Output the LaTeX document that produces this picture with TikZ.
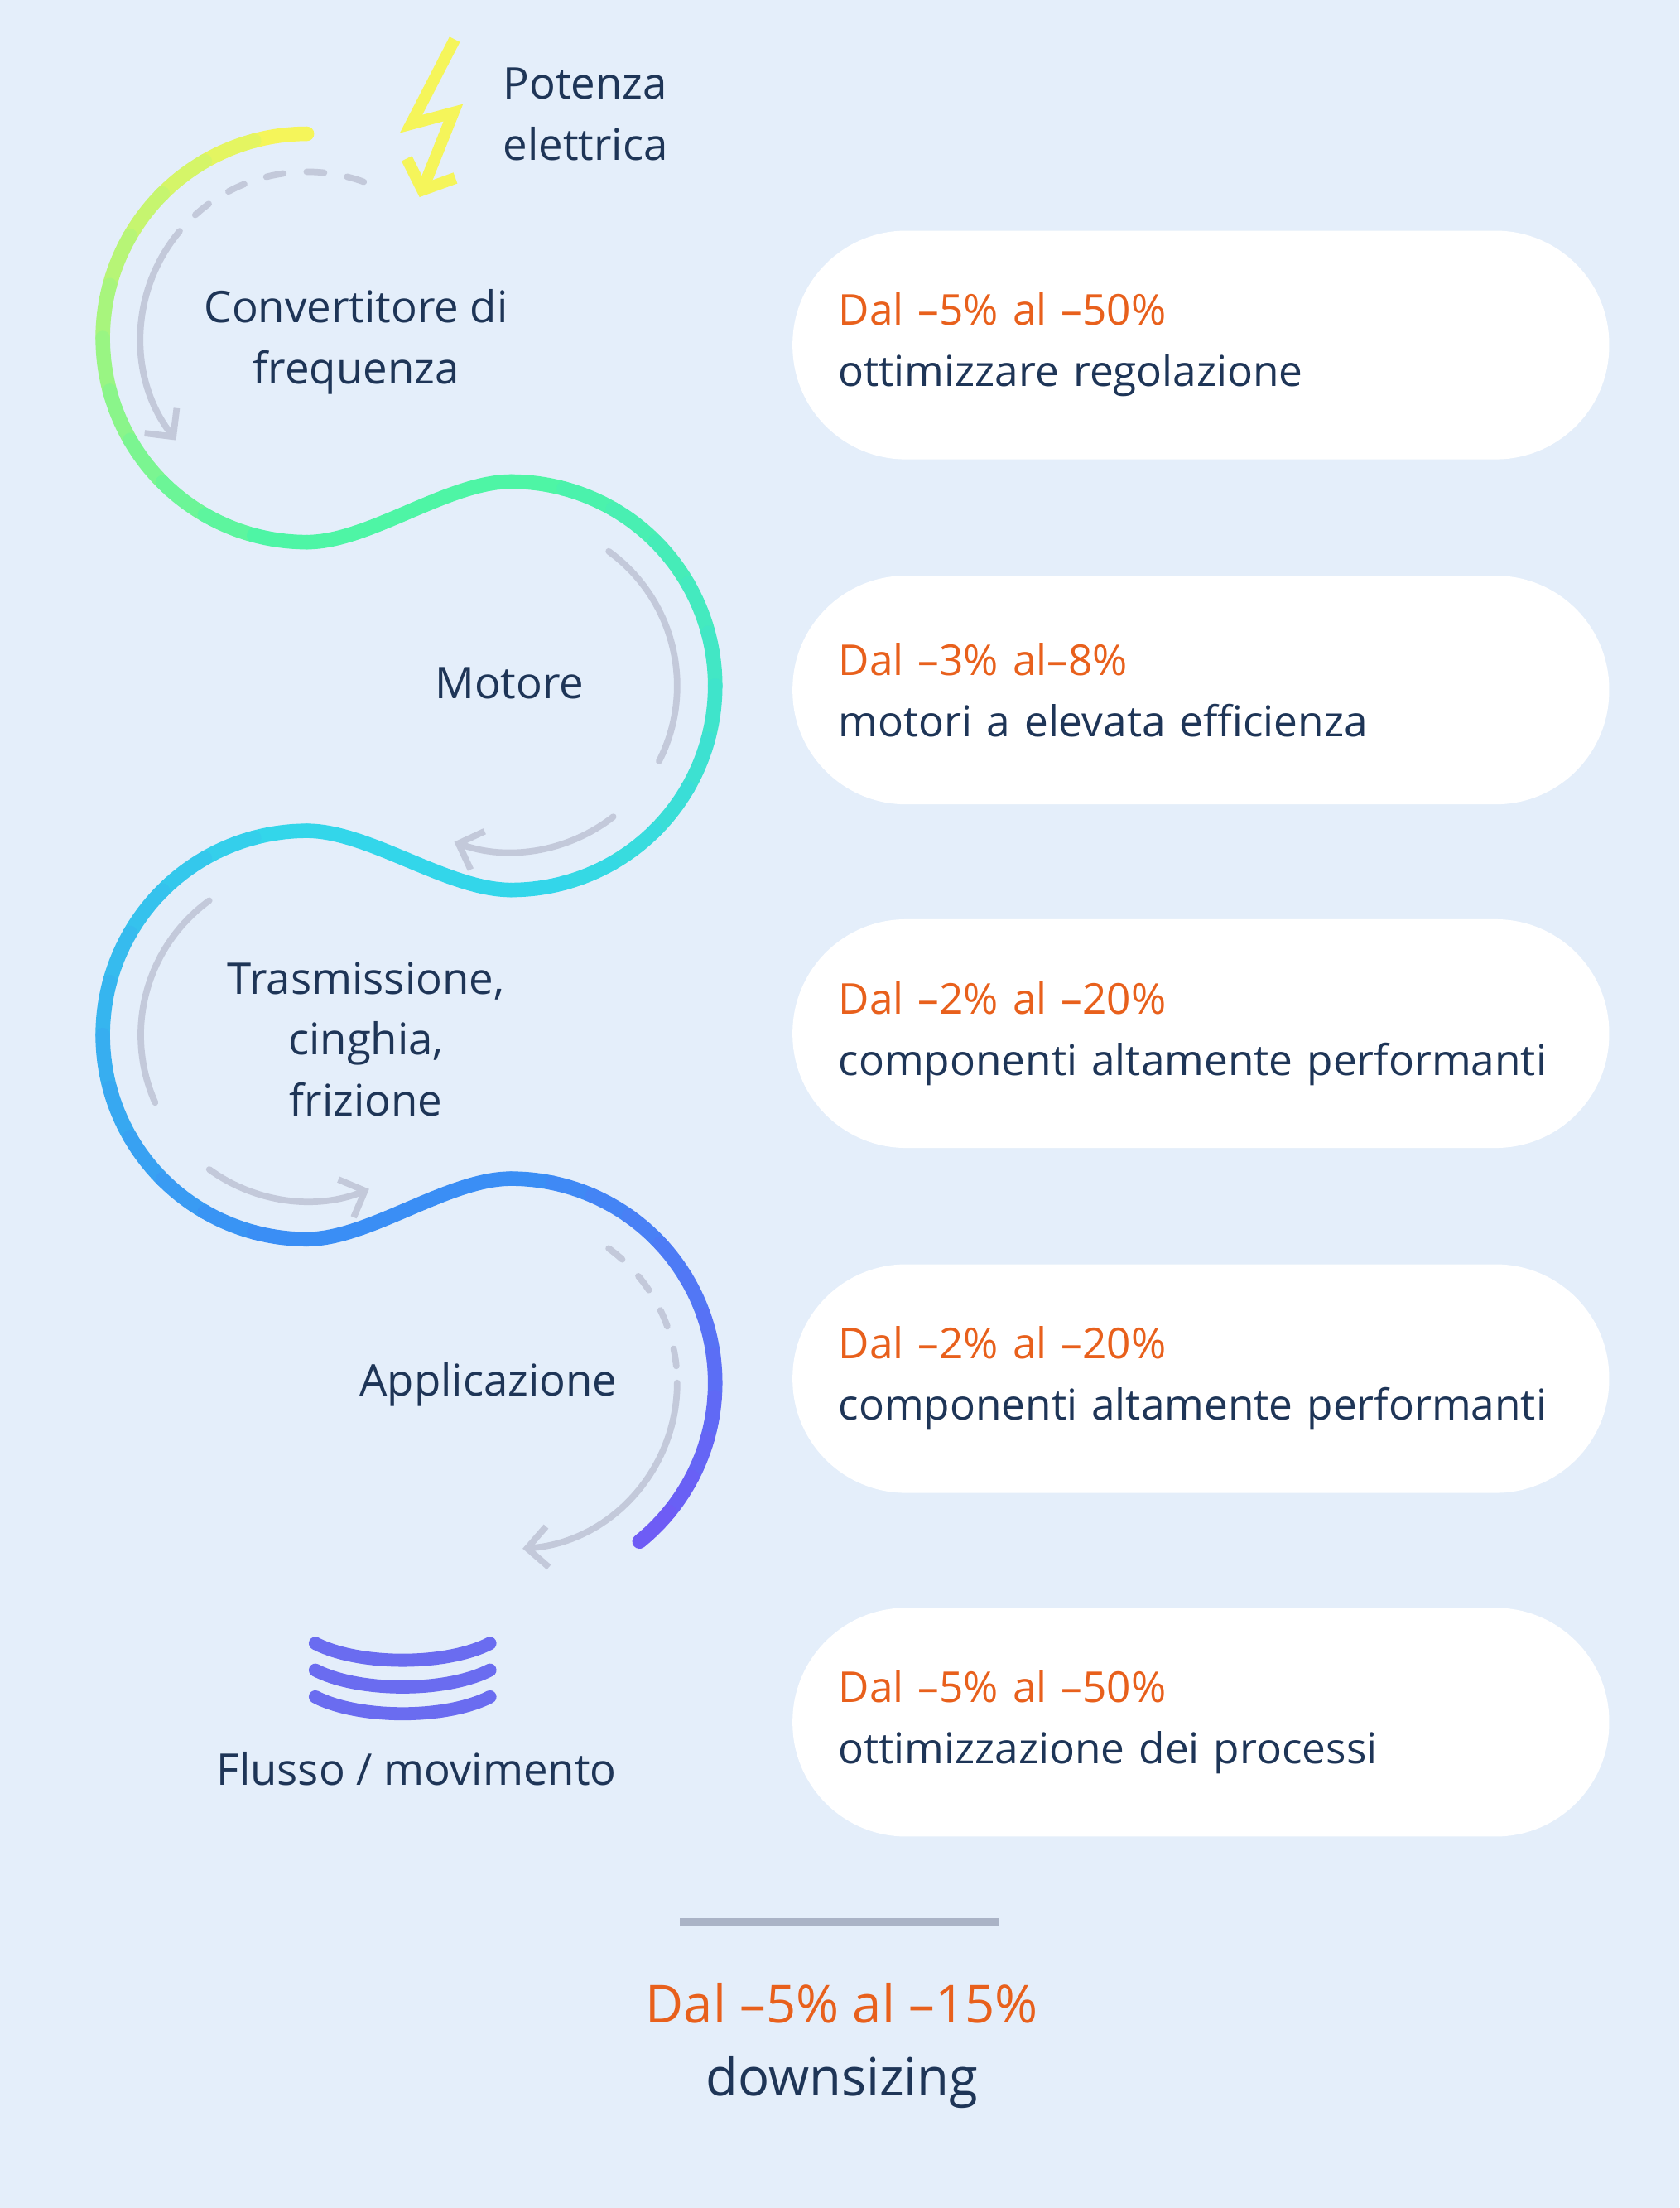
\documentclass[tikz,border=0pt]{standalone}
\usepackage{fontspec}
\setmainfont{Open Sans}
\usetikzlibrary{arrows.meta,positioning}
\definecolor{bg}{HTML}{E4EEFA}
\definecolor{navy}{HTML}{1E3557}
\definecolor{orng}{HTML}{E8601C}
\definecolor{gry}{HTML}{C3C9DA}
\definecolor{cyel}{HTML}{F5F55A}
\definecolor{cgrn}{HTML}{4EF5A5}
\definecolor{ccya}{HTML}{33D6EA}
\definecolor{cblu}{HTML}{3A8EF5}
\definecolor{cvio}{HTML}{6E5CF5}
\definecolor{cwav}{HTML}{6A6CF0}
\tikzset{
    serp/.style={line width=5pt, line cap=round},
    guide/.style={gry, line width=2.2pt, line cap=round},
    guidedash/.style={guide, dash pattern=on 6pt off 8pt},
    lbl/.style={text=navy, font=\fontsize{15pt}{21pt}\selectfont, align=center},
    pill/.style={fill=white, rounded corners=1.37cm, minimum width=9.86cm,
           minimum height=2.76cm, text width=8.75cm, align=left,
           font=\fontsize{14.6pt}{21pt}\selectfont, text=navy},
}
% gradient arc: cx, cy, start, end, colour a, colour b
\newcommand\gradarc[6]{%
  \foreach \i in {0,...,11}{%
    \pgfmathsetmacro\aa{#3+(#4-#3)*\i/12}%
    \pgfmathsetmacro\ab{#3+(#4-#3)*(\i+1)/12}%
    \pgfmathtruncatemacro\pp{100-100*\i/11}%
    \draw[serp, color=#5!\pp!#6] (#1,#2) ++(\aa:145)
      arc[start angle=\aa, end angle=\ab, radius=145];
  }}
\begin{document}
\begin{tikzpicture}[x=0.017cm,y=0.017cm]
 \fill[bg] (0,0) rectangle (1193,-1568);
 \useasboundingbox (0,0) rectangle (1193,-1568);

 % serpentine
 \gradarc{218}{-240}{90}{270}{cyel}{cgrn}
 \draw[serp, cgrn] (218,-385) .. controls (262,-385) and (318,-342) .. (363,-342);
 \gradarc{363}{-487}{90}{-90}{cgrn}{ccya}
 \draw[serp, ccya] (363,-632) .. controls (318,-632) and (262,-590) .. (218,-590);
 \gradarc{218}{-735}{90}{270}{ccya}{cblu}
 \draw[serp, cblu] (218,-880) .. controls (262,-880) and (318,-837) .. (363,-837);
 \gradarc{363}{-982}{90}{-51}{cblu}{cvio}

 % inner guides
 \draw[guidedash] (218,-240) ++(70:118) arc[start angle=70, end angle=140, radius=118];
 \draw[guide, -{Straight Barb[length=7pt,width=14pt]}] (218,-240) ++(140:118)
   arc[start angle=140, end angle=218, radius=118];
 \draw[guide] (363,-487) ++(54:118) arc[start angle=54, end angle=-27, radius=118];
 \draw[guide, -{Straight Barb[length=7pt,width=14pt]}] (363,-487) ++(-52:118)
   arc[start angle=-52, end angle=-110, radius=118];
 \draw[guide] (218,-735) ++(126:118) arc[start angle=126, end angle=204, radius=118];
 \draw[guide, -{Straight Barb[length=7pt,width=14pt]}] (218,-735) ++(234:118)
   arc[start angle=234, end angle=292, radius=118];
 \draw[guidedash] (363,-982) ++(54:118) arc[start angle=54, end angle=0, radius=118];
 \draw[guide, -{Straight Barb[length=7pt,width=14pt]}] (363,-982) ++(0:118)
   arc[start angle=0, end angle=-86, radius=118];

 % lightning
 \draw[cyel, line width=4pt, line join=miter, -{Straight Barb[length=8pt,width=18pt]}]
   (323,-28) -- (292,-88) -- (322,-80) -- (298,-140);

 % waves
 \foreach \yy in {1167,1186,1205}
   \draw[cwav, line width=4.5pt, line cap=round]
     (224,-\yy) .. controls (255,-\yy-16) and (317,-\yy-16) .. (348,-\yy);

 % labels
 \node[lbl, align=left, anchor=west] (pow) at (350,-81) {Potenza\\elettrica};
 \node[lbl] (conv) at (253,-243) {Convertitore di\\frequenza};
 \node[lbl] (mot) at (362,-485) {Motore};
 \node[lbl] (tras) at (260,-738) {Trasmissione,\\cinghia,\\frizione};
 \node[lbl] (app) at (347,-983) {Applicazione};
 \node[lbl] (flow) at (296,-1256) {Flusso / movimento};

 % savings
 \node[pill] (s1) at (853,-245) {\textcolor{orng}{Dal –5\% al –50\%}\\ottimizzare regolazione};
 \node[pill] (s2) at (853,-490) {\textcolor{orng}{Dal –3\% al–8\%}\\motori a elevata efficienza};
 \node[pill] (s3) at (853,-734) {\textcolor{orng}{Dal –2\% al –20\%}\\componenti altamente performanti};
 \node[pill] (s4) at (853,-979) {\textcolor{orng}{Dal –2\% al –20\%}\\componenti altamente performanti};
 \node[pill] (s5) at (853,-1223) {\textcolor{orng}{Dal –5\% al –50\%}\\ottimizzazione dei processi};

 % bottom
 \draw[gry!85!navy, line width=2.5pt] (483,-1365) -- (710,-1365);
 \node[lbl, font=\fontsize{18pt}{25pt}\selectfont] (down) at (598,-1453)
   {\textcolor{orng}{Dal –5\% al –15\%}\\downsizing};
\end{tikzpicture}
\end{document}
